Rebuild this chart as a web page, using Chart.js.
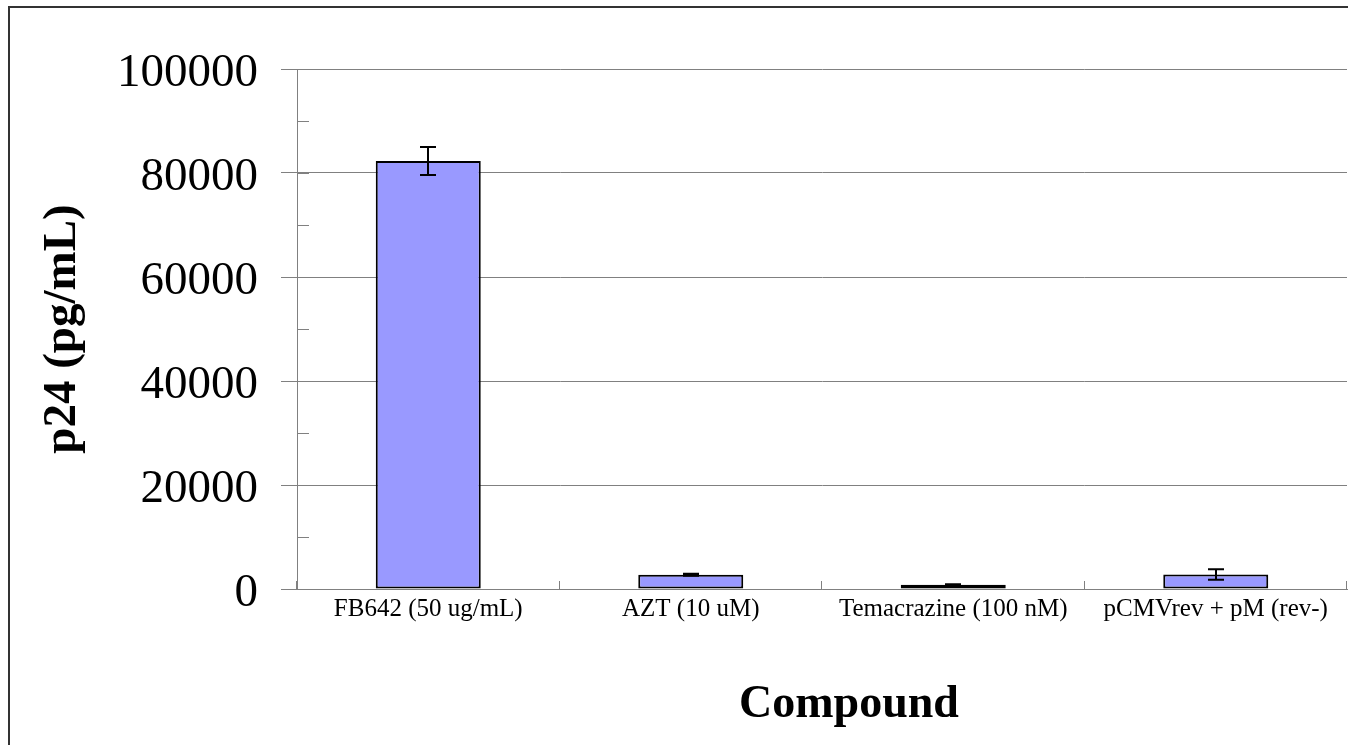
<!DOCTYPE html>
<html>
<head>
<meta charset="utf-8">
<title>p24 by compound</title>
<script src="https://cdn.jsdelivr.net/npm/chart.js@4/dist/chart.umd.min.js"></script>
<style>
  html, body { margin: 0; padding: 0; background: #fff; }
  canvas { display: block; }
</style>
</head>
<body>
<canvas id="myChart" width="1348" height="745"></canvas>
<script>
const compounds = ['FB642 (50 ug/mL)', 'AZT (10 uM)', 'Temacrazine (100 nM)', 'pCMVrev + pM (rev-)']
const p24Means = [82300, 2750, 800, 2800]
const p24Errors = [2700, 200, 100, 1000]
const yTicks = [0, 20000, 40000, 60000, 80000, 100000]
const yMinorStep = 10000

const serif = "'Liberation Serif', 'Times New Roman', serif"
const axisGray = '#808080'

// Frame around the whole chart (runs off the right and bottom edges)
const frame = {
    id: 'frame',
    beforeDraw(chart) {
        const ctx = chart.ctx
        ctx.save()
        ctx.strokeStyle = '#333'
        ctx.lineWidth = 2
        ctx.strokeRect(9, 7, chart.width + 20, chart.height + 20)
        ctx.restore()
    }
}

// Inside tick marks: minor ticks on the value axis, category boundaries on the x axis
const innerTicks = {
    id: 'innerTicks',
    afterDatasetsDraw(chart) {
        const { ctx, chartArea, scales: { x, y } } = chart
        ctx.save()
        ctx.strokeStyle = axisGray
        ctx.lineWidth = 1
        ctx.beginPath()
        for (let v = y.min; v <= y.max; v += yMinorStep) {
            const py = Math.round(y.getPixelForValue(v)) + 0.5
            ctx.moveTo(chartArea.left, py)
            ctx.lineTo(chartArea.left + 12, py)
        }
        const bounds = [chartArea.left]
        for (let i = 1; i < compounds.length; i++) {
            bounds.push((x.getPixelForValue(i - 1) + x.getPixelForValue(i)) / 2)
        }
        bounds.push(chartArea.right)
        bounds.forEach(bx => {
            const px = Math.round(bx) - 0.5
            ctx.moveTo(px, chartArea.bottom)
            ctx.lineTo(px, chartArea.bottom - 8)
        })
        ctx.stroke()
        ctx.restore()
    }
}

// Error bars with caps, from the mean +/- error
const errorBars = {
    id: 'errorBars',
    afterDatasetsDraw(chart) {
        const { ctx, scales: { x, y } } = chart
        ctx.save()
        ctx.strokeStyle = '#000'
        ctx.lineWidth = 2
        p24Means.forEach((m, i) => {
            const cx = Math.round(x.getPixelForValue(i))
            const top = y.getPixelForValue(m + p24Errors[i])
            const bot = y.getPixelForValue(m - p24Errors[i])
            ctx.beginPath()
            ctx.moveTo(cx, top)
            ctx.lineTo(cx, bot)
            ctx.moveTo(cx - 8, top)
            ctx.lineTo(cx + 8, top)
            ctx.moveTo(cx - 8, bot)
            ctx.lineTo(cx + 8, bot)
            ctx.stroke()
        })
        ctx.restore()
    }
}

// x axis title, sitting a little right of the plot centre
const xTitle = {
    id: 'xTitle',
    afterDraw(chart) {
        const { ctx, chartArea } = chart
        ctx.save()
        ctx.fillStyle = '#000'
        ctx.font = 'bold 46px ' + serif
        ctx.textAlign = 'center'
        ctx.textBaseline = 'alphabetic'
        ctx.fillText('Compound', (chartArea.left + chartArea.right) / 2 + 27, chart.height - 28)
        ctx.restore()
    }
}

window.chart = new Chart(document.querySelector('#myChart'), {
    type: 'bar',
    data: {
        labels: compounds,
        datasets: [{
            label: 'p24',
            data: p24Means,
            backgroundColor: '#9999FF',
            borderColor: '#000',
            borderWidth: 2,
            borderSkipped: false,
            barPercentage: 0.4,
            categoryPercentage: 1.0
        }]
    },
    options: {
        responsive: false,
        animation: false,
        layout: { padding: { top: 69, right: 1, left: 0, bottom: 0 } },
        plugins: {
            legend: { display: false },
            tooltip: { enabled: false }
        },
        scales: {
            x: {
                offset: true,
                // tick marks kept invisible; their length only spaces the labels
                grid: {
                    display: true,
                    drawOnChartArea: false,
                    drawTicks: true,
                    tickLength: 5,
                    tickColor: 'rgba(0,0,0,0)'
                },
                border: { display: true, color: axisGray, width: 1 },
                ticks: {
                    color: '#000',
                    padding: 0,
                    maxRotation: 0,
                    autoSkip: false,
                    font: { family: serif, size: 25 }
                },
                afterFit(scale) { scale.height = 156 }
            },
            y: {
                min: 0,
                max: 100000,
                afterBuildTicks(scale) { scale.ticks = yTicks.map(v => ({ value: v })) },
                grid: {
                    color: axisGray,
                    lineWidth: 1,
                    drawTicks: true,
                    tickLength: 16,
                    tickColor: axisGray
                },
                border: { display: true, color: axisGray, width: 1 },
                ticks: {
                    color: '#000',
                    padding: 23,
                    labelOffset: 5,
                    font: { family: serif, size: 47 },
                    callback: v => String(v)
                },
                title: {
                    display: true,
                    text: 'p24 (pg/mL)',
                    color: '#000',
                    padding: { top: 35, bottom: 0 },
                    font: { family: serif, size: 47, weight: 'bold' }
                },
                afterFit(scale) { scale.width = 297 }
            }
        }
    },
    plugins: [frame, innerTicks, errorBars, xTitle]
})
</script>
</body>
</html>
